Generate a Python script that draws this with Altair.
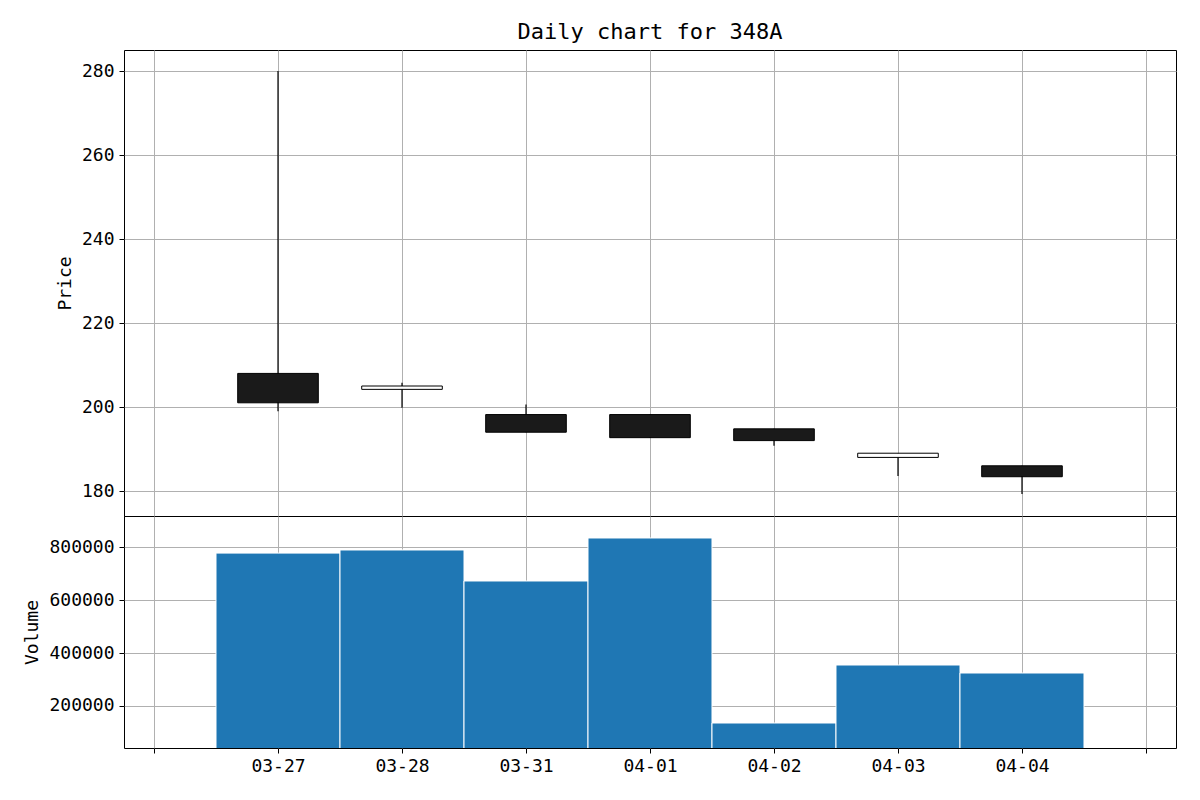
import altair as alt
import pandas as pd

dates = ["03-27", "03-28", "03-31", "04-01", "04-02", "04-03", "04-04"]
opens = [208.0, 204.2, 198.2, 198.2, 194.8, 188.0, 186.0]
highs = [280.0, 205.8, 200.6, 198.2, 194.8, 189.0, 186.0]
lows = [199.0, 199.8, 194.0, 192.7, 190.8, 183.6, 179.3]
closes = [201.0, 205.0, 194.0, 192.7, 192.0, 189.0, 183.4]
volumes = [777000, 788700, 671700, 834000, 135800, 354700, 324500]

df = pd.DataFrame({
    "idx": list(range(len(dates))),
    "date": dates,
    "open": opens,
    "high": highs,
    "low": lows,
    "close": closes,
    "volume": volumes,
})
df["up"] = df["close"] >= df["open"]
df["left"] = df["idx"] - 0.325
df["right"] = df["idx"] + 0.325
df["vleft"] = df["idx"] - 0.5
df["vright"] = df["idx"] + 0.5

FONT = "DejaVu Sans Mono"
XDOM = [-1.242, 7.242]
tick_vals = list(range(-1, len(dates) + 1))
label_list = [""] + dates + [""]
label_expr = "[" + ",".join("'%s'" % s for s in label_list) + "][datum.value + 1]"

W = 1052
xscale = alt.Scale(domain=XDOM, nice=False, zero=False)

x_top = alt.X("idx:Q", scale=xscale,
              axis=alt.Axis(values=tick_vals, labels=False, ticks=False, domain=False, title=None, grid=True))
x_bot = alt.X("vleft:Q", scale=xscale,
              axis=alt.Axis(values=tick_vals, labelExpr=label_expr, ticks=True, domain=False,
                            title=None, grid=True, labelPadding=4))

base = alt.Chart(df)

wick = base.mark_rule(color="black", strokeWidth=1.2).encode(
    x=x_top,
    y=alt.Y("low:Q", scale=alt.Scale(domain=[174.05, 285], nice=False, zero=False),
            axis=alt.Axis(values=[180, 200, 220, 240, 260, 280], title="Price", domain=False)),
    y2="high:Q",
)

body = base.mark_bar(stroke="black", strokeWidth=1).encode(
    x=alt.X("left:Q", scale=xscale),
    x2="right:Q",
    y="open:Q",
    y2="close:Q",
    fill=alt.condition("datum.up", alt.value("white"), alt.value("#1a1a1a")),
)

price = alt.layer(wick, body).properties(
    width=W, height=466,
    title=alt.TitleParams("Daily chart for 348A", anchor="middle", frame="group",
                          fontSize=22, font=FONT, fontWeight="normal", offset=6),
)

vol = base.mark_bar(color="#1f77b4", stroke="white", strokeWidth=1, clip=True).encode(
    x=x_bot,
    x2="vright:Q",
    y=alt.Y("volume:Q", scale=alt.Scale(domain=[41509, 916982], nice=False, zero=False),
            axis=alt.Axis(values=[200000, 400000, 600000, 800000], title="Volume", domain=False,
                          format="d")),
    y2=alt.datum(0),
).properties(width=W, height=232)

chart = alt.vconcat(price, vol, spacing=0, bounds="flush").properties(
    padding={"left": 15, "top": 12, "right": 5, "bottom": 5}
).configure_view(
    stroke="black", strokeWidth=1
).configure_axis(
    labelFont=FONT, titleFont=FONT, labelFontSize=18, titleFontSize=18,
    titleFontWeight="normal", labelColor="black", titleColor="black",
    gridColor="#b0b0b0", gridWidth=1, tickColor="black", tickSize=5,
    labelPadding=5, titlePadding=7,
).configure_concat(spacing=0)

chart.save("out.html", embed_options={"renderer": "svg", "actions": False})
